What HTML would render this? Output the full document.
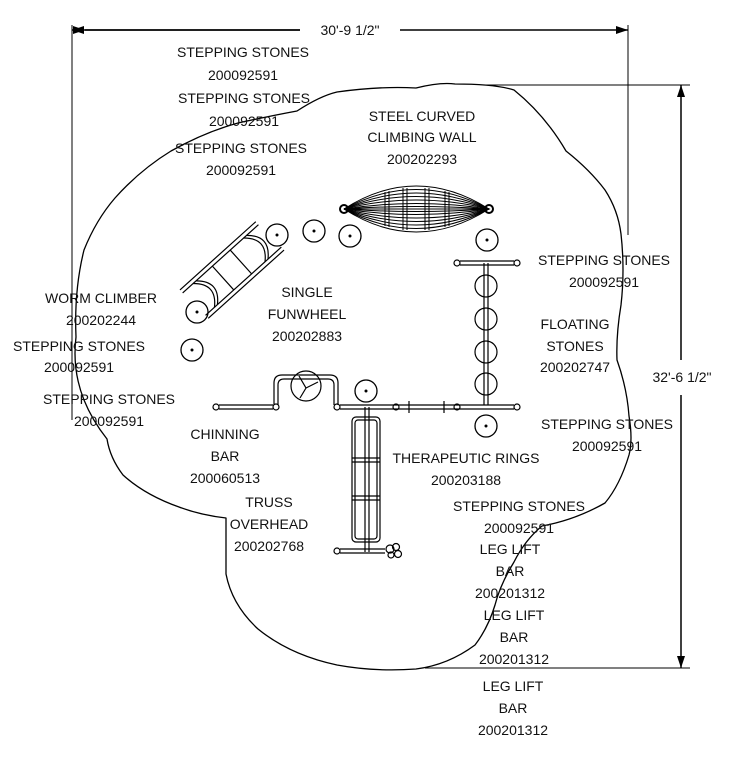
<!DOCTYPE html>
<html><head><meta charset="utf-8"><style>
html,body{margin:0;padding:0;background:#fff;}
svg{display:block}
text{font-family:"Liberation Sans",sans-serif;font-size:14px;fill:#111;text-anchor:middle;}
</style></head><body>
<svg width="739" height="760" viewBox="0 0 739 760" xmlns="http://www.w3.org/2000/svg">
<defs>
<marker id="ar" markerWidth="12" markerHeight="8" refX="12" refY="4" orient="auto" markerUnits="userSpaceOnUse"><path d="M0,0 L12,4 L0,8z" fill="#000"/></marker>
</defs>
<g fill="none" stroke="#000" stroke-width="1.3">
<!-- outline -->
<path stroke-linejoin="round" d="M297,111 Q320,96 337,92 Q380,86 416,88 Q440,82 455,84 Q495,84 514,90 Q545,115 566,151 Q590,170 605,190 Q618,210 621,234 Q625,270 621,305 Q616,335 617,360 Q627,388 629,416 Q633,440 629,455 Q620,485 605,503 Q575,520 542,526 Q525,540 514,562 Q500,585 495,605 Q488,628 475,645 Q448,665 416,669 Q375,672 337,665 Q290,655 258,629 Q232,605 226,574 L226,518 Q200,515 179,507 Q145,495 123,475 Q110,458 107,439 Q92,420 84,400 Q72,370 76,337 Q74,290 84,250 Q96,220 115,198 Q140,170 171,151 Q205,132 238,123 Q270,116 297,111Z"/>
<!-- dimensions -->
<line x1="72" y1="25" x2="72" y2="420" stroke-width="1"/>
<line x1="628" y1="25" x2="628" y2="235" stroke-width="1"/>
<line x1="85" y1="30" x2="300" y2="30" marker-start="url(#ar)" stroke-width="1.5" transform="rotate(0)"/>
<line x1="300" y1="30" x2="72" y2="30" marker-end="url(#ar)" stroke-width="1.5"/>
<line x1="400" y1="30" x2="628" y2="30" marker-end="url(#ar)" stroke-width="1.5"/>
<line x1="485" y1="85" x2="690" y2="85" stroke-width="1"/>
<line x1="425" y1="668" x2="690" y2="668" stroke-width="1"/>
<line x1="681" y1="360" x2="681" y2="85" marker-end="url(#ar)" stroke-width="1.5"/>
<line x1="681" y1="395" x2="681" y2="668" marker-end="url(#ar)" stroke-width="1.5"/>
<!-- stepping stones -->
<g>
<circle cx="277" cy="235" r="11"/><circle cx="314" cy="231" r="11"/><circle cx="350" cy="236" r="11"/>
<circle cx="197" cy="312" r="11"/><circle cx="192" cy="350" r="11"/><circle cx="487" cy="240" r="11"/>
<circle cx="486" cy="426" r="11"/><circle cx="366" cy="391" r="11"/>
</g>
<g fill="#000" stroke="none">
<circle cx="277" cy="235" r="1.5"/><circle cx="314" cy="231" r="1.5"/><circle cx="350" cy="236" r="1.5"/>
<circle cx="197" cy="312" r="1.5"/><circle cx="192" cy="350" r="1.5"/><circle cx="487" cy="240" r="1.5"/>
<circle cx="486" cy="426" r="1.5"/><circle cx="366" cy="391" r="1.5"/>
</g>
<!-- climbing wall -->
<g stroke-width="1">
<path d="M344,209 Q416,163 489,209 Q416,255 344,209"/>
<path d="M344,209 Q416,170 489,209 Q416,248 344,209"/>
<path d="M344,209 Q416,177 489,209 Q416,241 344,209"/>
<path d="M344,209 Q416,184 489,209 Q416,234 344,209"/>
<path d="M344,209 Q416,191 489,209 Q416,227 344,209"/>
<path d="M344,209 Q416,198 489,209 Q416,220 344,209"/>
<path d="M344,209 Q416,204 489,209 Q416,214 344,209"/>
<line x1="344" y1="209" x2="489" y2="209"/>
<path d="M385,192 V226 M389,191 V227 M403,188 V230 M407,188 V230 M425,188 V230 M429,188 V230 M445,191 V227 M449,192 V226"/>
</g>
<circle cx="344" cy="209" r="4" stroke-width="2"/><circle cx="489" cy="209" r="4" stroke-width="2"/>
<!-- worm climber -->
<g transform="translate(232,270) rotate(-42)" stroke-width="1.2">
<path d="M-52,-20 H50 M-52,-16 H50 M-50,16 H52 M-50,20 H52"/>
<path d="M-38,-16 Q-20,0 -38,16 M-34,-16 Q-16,0 -34,16"/>
<path d="M30,-16 Q48,0 30,16 M34,-16 Q52,0 34,16"/>
<path d="M-12,-16 V16 M12,-16 V16"/>
</g>
<!-- floating stones -->
<g stroke-width="1.2">
<path d="M484,263 V405 M488,263 V405"/>
<path d="M460,261 H514 M460,265 H514"/>
<circle cx="457" cy="263" r="3"/><circle cx="517" cy="263" r="3"/>
<circle cx="486" cy="286" r="11"/><circle cx="486" cy="319" r="11"/><circle cx="486" cy="352" r="11"/><circle cx="486" cy="384" r="11"/>
</g>
<!-- main bar -->
<g stroke-width="1.2">
<path d="M219,405 H273 M219,409 H273"/>
<circle cx="216" cy="407" r="3"/><circle cx="276" cy="407" r="3"/>
<path d="M274,405 V383 Q274,375 282,375 H330 Q338,375 338,383 V405"/>
<path d="M278,405 V385 Q278,379 284,379 H328 Q334,379 334,385 V405"/>
<circle cx="306" cy="386" r="15"/>
<path d="M299,376 L306,388 L300,398 M306,388 L318,382"/>
<path d="M340,405 H514 M340,409 H514"/>
<circle cx="337" cy="407" r="3"/><circle cx="396" cy="407" r="3"/><circle cx="457" cy="407" r="3"/><circle cx="517" cy="407" r="3"/>
<path d="M409,401 V413 M444,401 V413"/>
</g>
<!-- truss overhead -->
<g stroke-width="1.2">
<path d="M365,407 V552 M369,407 V552"/>
<rect x="352" y="417" width="28" height="125" rx="4"/>
<rect x="355" y="420" width="22" height="119" rx="3"/>
<path d="M352,458 H380 M352,462 H380 M352,496 H380 M352,500 H380"/>
<path d="M340,549 H385 M340,553 H385"/>
<circle cx="337" cy="551" r="3"/>
<circle cx="390" cy="549" r="4"/><circle cx="396" cy="547" r="3.5"/><circle cx="398" cy="554" r="3.5"/><circle cx="391" cy="555" r="3"/>
</g>
</g>
<!-- dimension labels -->
<rect x="305" y="20" width="90" height="20" fill="#fff"/>
<text x="350" y="35">30'-9 1/2"</text>
<rect x="645" y="366" width="74" height="22" fill="#fff"/>
<text x="682" y="382">32'-6 1/2"</text>
<!-- labels -->
<text x="243" y="57">STEPPING STONES</text><text x="243" y="80">200092591</text>
<text x="244" y="103">STEPPING STONES</text><text x="244" y="126">200092591</text>
<text x="241" y="153">STEPPING STONES</text><text x="241" y="175">200092591</text>
<text x="422" y="121">STEEL CURVED</text><text x="422" y="142">CLIMBING WALL</text><text x="422" y="164">200202293</text>
<text x="604" y="265">STEPPING STONES</text><text x="604" y="287">200092591</text>
<text x="101" y="303">WORM CLIMBER</text><text x="101" y="325">200202244</text>
<text x="307" y="297">SINGLE</text><text x="307" y="319">FUNWHEEL</text><text x="307" y="341">200202883</text>
<text x="79" y="351">STEPPING STONES</text><text x="79" y="372">200092591</text>
<text x="575" y="329">FLOATING</text><text x="575" y="351">STONES</text><text x="575" y="372">200202747</text>
<text x="109" y="404">STEPPING STONES</text><text x="109" y="426">200092591</text>
<text x="607" y="429">STEPPING STONES</text><text x="607" y="451">200092591</text>
<text x="225" y="439">CHINNING</text><text x="225" y="461">BAR</text><text x="225" y="483">200060513</text>
<text x="466" y="463">THERAPEUTIC RINGS</text><text x="466" y="485">200203188</text>
<text x="269" y="507">TRUSS</text><text x="269" y="529">OVERHEAD</text><text x="269" y="551">200202768</text>
<text x="519" y="511">STEPPING STONES</text><text x="519" y="533">200092591</text>
<text x="510" y="554">LEG LIFT</text><text x="510" y="576">BAR</text><text x="510" y="598">200201312</text>
<text x="514" y="620">LEG LIFT</text><text x="514" y="642">BAR</text><text x="514" y="664">200201312</text>
<text x="513" y="691">LEG LIFT</text><text x="513" y="713">BAR</text><text x="513" y="735">200201312</text>
</svg>
</body></html>
